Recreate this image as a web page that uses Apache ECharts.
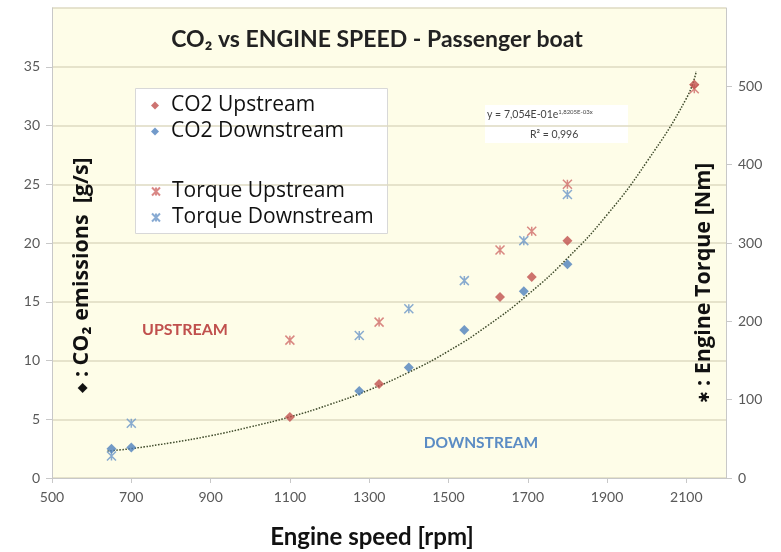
<!DOCTYPE html>
<html><head><meta charset="utf-8">
<script src="https://cdn.jsdelivr.net/npm/echarts@6/dist/echarts.min.js"></script>
<style>html,body{margin:0;padding:0;background:#fff}#c{width:781px;height:552px}</style>
</head><body><div id="c"></div>
<script>
const co2UpSpeed = [1100, 1325, 1630, 1710, 1800, 2120];
const co2Up = [5.2, 8.0, 15.4, 17.1, 20.2, 33.5];
const co2DownSpeed = [650, 700, 1275, 1400, 1540, 1690, 1800];
const co2Down = [2.5, 2.6, 7.4, 9.4, 12.6, 15.9, 18.2];
const torqueUpSpeed = [1100, 1325, 1630, 1710, 1800, 2120];
const torqueUp = [176, 199, 291, 315, 375, 497];
const torqueDownSpeed = [650, 700, 1275, 1400, 1540, 1690, 1800];
const torqueDown = [28, 70, 182, 216, 252, 303, 362];
const trendSpeed = [640, 700, 800, 900, 1000, 1100, 1200, 1300, 1400, 1500, 1600, 1700, 1800, 1900, 2000, 2100, 2125];
const trendCO2 = [2.3, 2.5, 3.0, 3.6, 4.35, 5.2, 6.25, 7.5, 9.0, 10.8, 13.0, 15.6, 18.7, 22.4, 26.9, 32.3, 34.6];
const xTicks = [500, 2200, 200];
const yLeftTicks = [0, 40, 5];
const yRightTicks = [0, 600, 100];

const zip = (a, b) => a.map((v, i) => [v, b[i]]);
const RED = '#C0504D', BLUE = '#4F81BD';
const STAR = 'path://M0,0L10,10M10,0L0,10M5,0L5,10';
const font = 'Lato, "Open Sans", sans-serif';
const osans = '"Open Sans", sans-serif';
const plain = v => String(v);

const chart = echarts.init(document.getElementById('c'));
const G = {left: 52, right: 55, top: 8, bottom: 74};
const legendText = {fontSize: 21, color: '#111', fontFamily: osans, padding: [0, 0, 0, 7]};
chart.setOption({
  animation: false,
  textStyle: {fontFamily: font},
  grid: {left: G.left, right: G.right, top: G.top, bottom: G.bottom, show: true, backgroundColor: '#FEFDE8', borderWidth: 0},
  xAxis: {type: 'value', min: xTicks[0], max: xTicks[1], interval: xTicks[2],
    axisLine: {show: true, onZero: false, lineStyle: {color: '#C8C8C8'}},
    axisTick: {show: true, length: 5, lineStyle: {color: '#C8C8C8'}},
    axisLabel: {color: '#595959', fontSize: 14, margin: 12, showMaxLabel: false, fontFamily: font, formatter: plain},
    splitLine: {show: false}
  },
  yAxis: [
    {type: 'value', min: yLeftTicks[0], max: yLeftTicks[1], interval: yLeftTicks[2],
      axisLine: {show: true, lineStyle: {color: '#C8C8C8'}},
      axisTick: {show: true, length: 6, lineStyle: {color: '#C8C8C8'}},
      axisLabel: {color: '#595959', fontSize: 14, margin: 12, showMaxLabel: false, fontFamily: font, formatter: plain},
      splitLine: {show: true, lineStyle: {color: '#DEDAC2', width: 1.5}}
    },
    {type: 'value', min: yRightTicks[0], max: yRightTicks[1], interval: yRightTicks[2], position: 'right',
      axisLine: {show: true, lineStyle: {color: '#C8C8C8'}},
      axisTick: {show: true, length: 6, lineStyle: {color: '#C8C8C8'}},
      axisLabel: {color: '#595959', fontSize: 14, margin: 12, showMaxLabel: false, fontFamily: font, formatter: plain},
      splitLine: {show: false}
    }
  ],
  legend: [
    {orient: 'vertical', left: 146, top: 90, itemGap: 5, itemWidth: 8, itemHeight: 8,
      data: [{name: 'CO2 Upstream', icon: 'diamond'}, {name: 'CO2 Downstream', icon: 'diamond'}],
      textStyle: legendText},
    {orient: 'vertical', left: 146, top: 176, itemGap: 5, itemWidth: 8, itemHeight: 8,
      data: [{name: 'Torque Upstream'}, {name: 'Torque Downstream'}],
      textStyle: legendText}
  ],
  graphic: [
    {type: 'rect', left: 135, top: 88, shape: {width: 252, height: 145}, z: 0,
      style: {fill: '#FFFFFF', stroke: '#D8D8D8', lineWidth: 1}},
    {type: 'rect', left: 485, top: 105, shape: {width: 143, height: 38}, z: 0,
      style: {fill: '#FFFFFF'}},
    {type: 'text', left: 487, top: 109, z: 10, style: {
      text: '{a|y = 7,054E-01e}{s|1,8205E-03x}', rich: {
        a: {fontSize: 10.5, fill: '#444', fontFamily: font},
        s: {fontSize: 6, fill: '#444', verticalAlign: 'top', padding: [0, 0, 6, 0], fontFamily: font}}}},
    {type: 'text', left: 530, top: 129, z: 10, style: {text: 'R² = 0,996', fontSize: 10.5, fill: '#444', fontFamily: font}},
    {type: 'text', x: 377, y: 40, z: 10, style: {text: 'CO₂ vs ENGINE SPEED - Passenger boat', fontSize: 23, fontWeight: 'bold',
      fill: '#222', align: 'center', verticalAlign: 'middle', fontFamily: font}},
    {type: 'text', x: 372, y: 537, z: 10, style: {text: 'Engine speed [rpm]', fontSize: 24, fontWeight: 'bold',
      fill: '#111', align: 'center', verticalAlign: 'middle', fontFamily: font}},
    {type: 'text', x: 185, y: 330, z: 10, style: {text: 'UPSTREAM', fontSize: 16, fontWeight: 'bold', fill: '#C0504D',
      align: 'center', verticalAlign: 'middle', fontFamily: font}},
    {type: 'text', x: 481, y: 443, z: 10, style: {text: 'DOWNSTREAM', fontSize: 15.5, fontWeight: 'bold', fill: '#5B8CC4',
      align: 'center', verticalAlign: 'middle', fontFamily: font}},
    {type: 'text', x: 82, y: 275, rotation: Math.PI / 2, z: 10, style: {
      text: '{d|◆}{t| : CO₂ emissions  [g/s]}', align: 'center', verticalAlign: 'middle',
      rich: {d: {fontSize: 13, fill: '#111', fontFamily: font},
             t: {fontSize: 21.5, fontWeight: 'bold', fill: '#111', fontFamily: osans}}}},
    {type: 'text', x: 704, y: 283, rotation: Math.PI / 2, z: 10, style: {
      text: '{d|✱}{t| : Engine Torque [Nm]}', align: 'center', verticalAlign: 'middle',
      rich: {d: {fontSize: 14, fill: '#111', fontFamily: font},
             t: {fontSize: 21.5, fontWeight: 'bold', fill: '#111', fontFamily: osans}}}}
  ],
  series: [
    {name: 'Trend', type: 'line', data: zip(trendSpeed, trendCO2), showSymbol: false, smooth: true, z: 1,
      lineStyle: {color: '#3E4A2A', width: 1.5, type: 'dotted'}},
    {name: 'CO2 Upstream', type: 'scatter', data: zip(co2UpSpeed, co2Up), symbol: 'diamond', symbolSize: 10,
      itemStyle: {color: RED}, z: 5},
    {name: 'CO2 Downstream', type: 'scatter', data: zip(co2DownSpeed, co2Down), symbol: 'diamond', symbolSize: 10,
      itemStyle: {color: BLUE}, z: 5},
    {name: 'Torque Upstream', type: 'scatter', yAxisIndex: 1, data: zip(torqueUpSpeed, torqueUp), symbol: STAR, symbolSize: 9,
      itemStyle: {color: 'rgba(0,0,0,0)', borderColor: '#D06A68', borderWidth: 1.5}, z: 4},
    {name: 'Torque Downstream', type: 'scatter', yAxisIndex: 1, data: zip(torqueDownSpeed, torqueDown), symbol: STAR, symbolSize: 9,
      itemStyle: {color: 'rgba(0,0,0,0)', borderColor: '#6C96C8', borderWidth: 1.5}, z: 4}
  ]
});
</script></body></html>
